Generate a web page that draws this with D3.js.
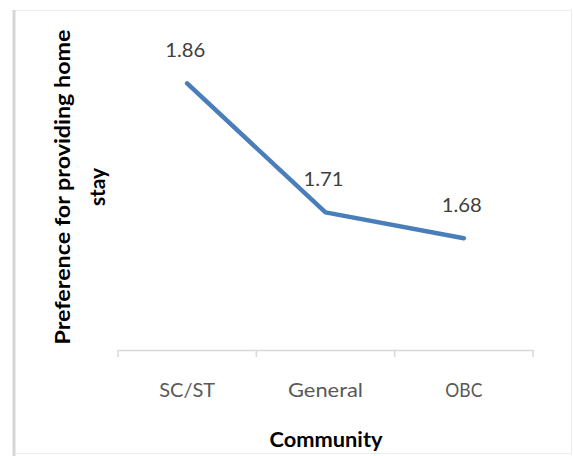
<!DOCTYPE html>
<html>
<head>
<meta charset="utf-8">
<script src="https://cdn.jsdelivr.net/npm/d3@7"></script>
<style>
  html, body { margin: 0; padding: 0; background: #ffffff; }
  svg { display: block; }
  text { font-family: Lato, "Open Sans", sans-serif; }
</style>
</head>
<body>
<script>
// Community-wise preference for providing home stay
const categories = ["SC/ST", "General", "OBC"];
const values = [1.86, 1.71, 1.68];
const valueLabels = ["1.86", "1.71", "1.68"];
const yDomain = [1.55, 1.9];
const xTitle = "Community";
const yTitleLines = ["Preference for providing home", "stay"];

const W = 573, H = 456;
const svg = d3.select("body").append("svg").attr("width", W).attr("height", H);

// chart frame
svg.append("rect")
  .attr("x", 13.5).attr("y", 10.5).attr("width", 558).attr("height", 443)
  .attr("fill", "#ffffff").attr("stroke", "#ececec").attr("stroke-width", 1);
svg.append("line")
  .attr("x1", 14).attr("x2", 14).attr("y1", 10).attr("y2", 456)
  .attr("stroke", "#d6d6d6").attr("stroke-width", 3);

const x = d3.scaleBand().domain(categories).range([118, 533]).padding(0);
const y = d3.scaleLinear().domain(yDomain).range([350, 49]);
const cx = d => x(d) + x.bandwidth() / 2;

// category axis: baseline, tick labels, and tick marks at category boundaries
const xAxis = svg.append("g")
  .attr("transform", `translate(0,${y(yDomain[0])})`)
  .call(d3.axisBottom(x).tickSize(0).tickPadding(33));
xAxis.select(".domain").attr("stroke", "#d9d9d9").attr("stroke-width", 1.5);
xAxis.selectAll(".tick text")
  .attr("fill", "#595959")
  .style("font-size", "20px")
  .attr("textLength", d => ({ "SC/ST": 56, "General": 75, "OBC": 37 })[d])
  .attr("lengthAdjust", "spacingAndGlyphs");

const boundaries = categories.map(c => x(c)).concat([x(categories[categories.length - 1]) + x.bandwidth()]);
svg.append("g").selectAll("line")
  .data(boundaries)
  .join("line")
  .attr("x1", d => d).attr("x2", d => d)
  .attr("y1", y(yDomain[0])).attr("y2", y(yDomain[0]) + 7)
  .attr("stroke", "#d9d9d9").attr("stroke-width", 1.5);

// series line
const line = d3.line()
  .x((d, i) => cx(categories[i]))
  .y(d => y(d));
svg.append("path")
  .datum(values)
  .attr("d", line)
  .attr("fill", "none")
  .attr("stroke", "#4a7ebb")
  .attr("stroke-width", 4.5)
  .attr("stroke-linejoin", "round")
  .attr("stroke-linecap", "round");

// value labels
svg.append("g").selectAll("text")
  .data(values)
  .join("text")
  .attr("x", (d, i) => cx(categories[i]) - 2)
  .attr("y", d => y(d) - 26)
  .attr("text-anchor", "middle")
  .attr("fill", "#404040")
  .style("font-size", "20px")
  .attr("textLength", 40)
  .attr("lengthAdjust", "spacingAndGlyphs")
  .text((d, i) => valueLabels[i]);

// axis titles
svg.append("text")
  .attr("x", 326).attr("y", 447)
  .attr("text-anchor", "middle")
  .attr("fill", "#000000")
  .style("font-size", "20px").style("font-weight", "bold")
  .attr("textLength", 113)
  .attr("lengthAdjust", "spacingAndGlyphs")
  .text(xTitle);

const yTitle = svg.append("g").attr("transform", "translate(70,187) rotate(-90)");
yTitle.selectAll("text")
  .data(yTitleLines)
  .join("text")
  .attr("x", 0)
  .attr("y", (d, i) => i * 35)
  .attr("text-anchor", "middle")
  .attr("fill", "#000000")
  .style("font-size", "20px").style("font-weight", "bold")
  .attr("textLength", (d, i) => i === 0 ? 315 : 38)
  .attr("lengthAdjust", "spacingAndGlyphs")
  .text(d => d);
</script>
</body>
</html>
